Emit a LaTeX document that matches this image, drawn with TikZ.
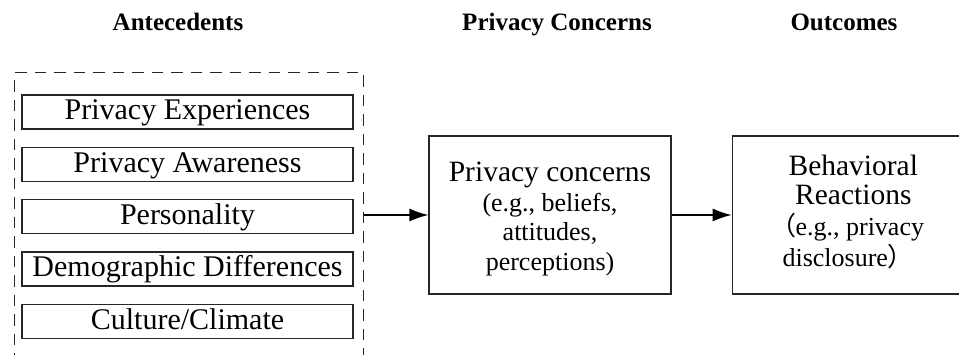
\documentclass[tikz,border=0pt]{standalone}
\usepackage{fontspec}
\setmainfont{Liberation Serif}
\newfontfamily\cjk[RawFeature=+palt]{Noto Sans CJK SC}
\usetikzlibrary{arrows.meta,positioning}
\tikzstyle{group}=[draw=black!85,line width=1.4pt,dash pattern=on 11.5pt off 8pt,minimum width=349pt,minimum height=328pt,inner sep=0pt]
\tikzstyle{factor}=[draw=black!85,line width=1.3pt,minimum width=331pt,minimum height=34pt,inner sep=0pt,text height=21pt,text depth=5pt,font=\fontsize{30}{31}\selectfont]
\tikzstyle{stage}=[draw=black!85,line width=1.3pt,minimum width=242pt,minimum height=158pt,inner sep=0pt,align=center,font=\fontsize{29.5}{29.5}\selectfont]
\tikzstyle{heading}=[anchor=base,font=\bfseries\fontsize{25}{28}\selectfont]
\tikzstyle{edge} = [draw,line width=1.3pt,-{Latex[length=19pt,width=13pt]}]
\newcommand{\egfont}{\fontsize{26}{29.5}\selectfont}

\begin{document}
\begin{tikzpicture}[x=1pt,y=-1pt]
        \useasboundingbox (0,0) rectangle (959,355);
        \clip (0,0) rectangle (959,355);
        \node[heading] (hant) at (178,31) {Antecedents};
        \node[heading] (hcon) at (557,31) {Privacy Concerns};
        \node[heading] (hout) at (844,31) {Outcomes};
        % dashed frame runs off the bottom of the page
        \node[group,anchor=north west] (ante) at (14,72) {};
        \node[factor] (exp) at (187.5,112) {Privacy Experiences};
        \node[factor,below=17pt of exp] (aware) {Privacy Awareness};
        \node[factor,below=17pt of aware] (pers) {Personality};
        \node[factor,below=17pt of pers] (demo) {Demographic Differences};
        \node[factor,below=17pt of demo] (cult) {Culture/Climate};
        \node[stage] (concern) at (550,215) {\rule{0pt}{28pt}Privacy concerns\\ {\egfont (e.g., beliefs,}\\ {\egfont attitudes,}\\ {\egfont perceptions)}};
        \node[stage,right=60pt of concern] (react) {\begin{tabular}{@{}l@{}}
                \multicolumn{1}{@{}c@{}}{Behavioral}\\
                \multicolumn{1}{@{}c@{}}{Reactions}\\
                \egfont{\cjk（}e.g., privacy\\
                \egfont disclosure{\cjk）}
        \end{tabular}};
        \draw[edge] (ante.east |- concern) -- (concern);
        \draw[edge] (concern) -- (react);
      \end{tikzpicture}
\end{document}
